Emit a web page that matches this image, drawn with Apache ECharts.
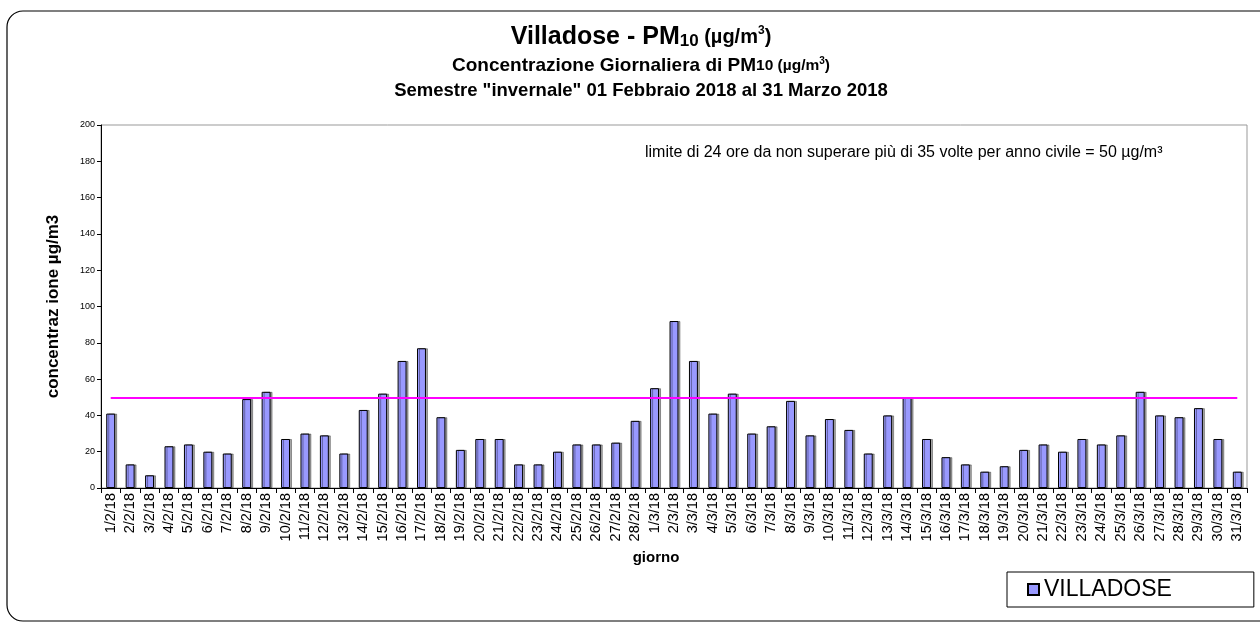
<!DOCTYPE html>
<html>
<head>
<meta charset="utf-8">
<script src="https://cdn.jsdelivr.net/npm/echarts@6/dist/echarts.min.js"></script>
<style>
    html, body { margin: 0; padding: 0; background: #fff; }
    #chart { width: 1260px; height: 627px; }
</style>
</head>
<body>
<div id="chart"></div>
<script>
// giorni (categorie asse x)
var giorni = [
    '1/2/18', '2/2/18', '3/2/18', '4/2/18', '5/2/18', '6/2/18', '7/2/18', '8/2/18', '9/2/18', '10/2/18',
    '11/2/18', '12/2/18', '13/2/18', '14/2/18', '15/2/18', '16/2/18', '17/2/18', '18/2/18', '19/2/18', '20/2/18',
    '21/2/18', '22/2/18', '23/2/18', '24/2/18', '25/2/18', '26/2/18', '27/2/18', '28/2/18',
    '1/3/18', '2/3/18', '3/3/18', '4/3/18', '5/3/18', '6/3/18', '7/3/18', '8/3/18', '9/3/18', '10/3/18',
    '11/3/18', '12/3/18', '13/3/18', '14/3/18', '15/3/18', '16/3/18', '17/3/18', '18/3/18', '19/3/18', '20/3/18',
    '21/3/18', '22/3/18', '23/3/18', '24/3/18', '25/3/18', '26/3/18', '27/3/18', '28/3/18', '29/3/18', '30/3/18',
    '31/3/18'
];

// PM10 giornaliero (µg/m3)
var villadose = [
    41, 13, 7, 23, 24, 20, 19, 49, 53, 27,
    30, 29, 19, 43, 52, 70, 77, 39, 21, 27,
    27, 13, 13, 20, 24, 24, 25, 37,
    55, 92, 70, 41, 52, 30, 34, 48, 29, 38,
    32, 19, 40, 50, 27, 17, 13, 9, 12, 21,
    24, 20, 27, 24, 29, 53, 40, 39, 44, 27,
    9
];

var limite = 50;
var yMin = 0, yMax = 200, yStep = 20;

window.onload = function () {
    var font = '"Liberation Sans", Arial, sans-serif';
    var chart = echarts.init(document.getElementById('chart'), null, { renderer: 'canvas' });

    chart.setOption({
        animation: false,
        backgroundColor: '#fff',
        textStyle: { fontFamily: font },
        grid: {
            left: 101, right: 13, top: 125, bottom: 139,
            show: true, borderColor: '#999', borderWidth: 1
        },
        legend: {
            left: 1007, top: 572,
            padding: [6, 82, 6, 20],
            borderColor: '#000', borderWidth: 1,
            itemWidth: 11, itemHeight: 11, itemGap: 6,
            icon: 'rect',
            textStyle: { fontSize: 23, color: '#000', fontFamily: font },
            data: ['VILLADOSE']
        },
        xAxis: {
            type: 'category',
            data: giorni,
            axisLine: { lineStyle: { color: '#000', width: 1 } },
            axisTick: { show: true, interval: 0, length: 5, lineStyle: { color: '#000' } },
            axisLabel: { interval: 0, rotate: 90, fontSize: 14.5, color: '#000', margin: 5 }
        },
        yAxis: {
            type: 'value',
            min: yMin, max: yMax, interval: yStep,
            name: 'concentraz ione µg/m3',
            nameLocation: 'middle',
            nameGap: 39,
            nameTextStyle: { fontSize: 17, fontWeight: 'bold', color: '#000' },
            axisLine: { show: true, lineStyle: { color: '#000', width: 1 } },
            axisTick: { show: true, length: 4, lineStyle: { color: '#000' } },
            axisLabel: { fontSize: 9, color: '#000', margin: 6 },
            splitLine: { show: false }
        },
        series: [{
            name: 'VILLADOSE',
            type: 'bar',
            data: villadose,
            barWidth: '46%',
            itemStyle: {
                color: '#9999FF',
                borderColor: '#000',
                borderWidth: 1,
                shadowColor: 'rgba(0,0,0,0.35)',
                shadowOffsetX: 2,
                shadowOffsetY: 0
            },
            markLine: {
                silent: true,
                symbol: 'none',
                label: { show: false },
                lineStyle: { color: '#FF00FF', width: 2, type: 'solid' },
                data: [[
                    { coord: [giorni[0], limite] },
                    { coord: [giorni[giorni.length - 1], limite] }
                ]]
            }
        }],
        graphic: [
            // cornice esterna
            {
                type: 'rect', z: -1, silent: true,
                shape: { x: 7, y: 11, width: 1270, height: 610, r: 16 },
                style: { fill: null, stroke: '#000', lineWidth: 1.2 }
            },
            {
                type: 'text', x: 641, y: 37, silent: true,
                style: {
                    text: '{a|Villadose - PM}{s|10}{b| (µg/m}{p|3}{b|)}',
                    textAlign: 'center', textVerticalAlign: 'middle',
                    rich: {
                        a: { fontSize: 25, fontWeight: 'bold', fontFamily: font, fill: '#000' },
                        s: { fontSize: 17, fontWeight: 'bold', fontFamily: font, fill: '#000', padding: [9, 0, 0, 0] },
                        b: { fontSize: 20, fontWeight: 'bold', fontFamily: font, fill: '#000' },
                        p: { fontSize: 12, fontWeight: 'bold', fontFamily: font, fill: '#000', padding: [0, 0, 13, 0] }
                    }
                }
            },
            {
                type: 'text', x: 641, y: 66, silent: true,
                style: {
                    text: '{a|Concentrazione Giornaliera di PM}{b|10 (µg/m}{p|3}{b|)}',
                    textAlign: 'center', textVerticalAlign: 'middle',
                    rich: {
                        a: { fontSize: 19, fontWeight: 'bold', fontFamily: font, fill: '#000' },
                        b: { fontSize: 15.5, fontWeight: 'bold', fontFamily: font, fill: '#000' },
                        p: { fontSize: 10, fontWeight: 'bold', fontFamily: font, fill: '#000', padding: [0, 0, 10, 0] }
                    }
                }
            },
            {
                type: 'text', x: 641, y: 91, silent: true,
                style: {
                    text: 'Semestre "invernale" 01 Febbraio 2018 al 31 Marzo 2018',
                    textAlign: 'center', textVerticalAlign: 'middle',
                    font: 'bold 18.5px ' + font, fill: '#000'
                }
            },
            {
                type: 'text', x: 645, y: 153, silent: true,
                style: {
                    text: 'limite di 24 ore da non superare più di 35 volte per anno civile = 50 µg/m³',
                    textVerticalAlign: 'middle',
                    font: '16px ' + font, fill: '#000'
                }
            },
            {
                type: 'text', x: 656, y: 558, silent: true,
                style: {
                    text: 'giorno',
                    textAlign: 'center', textVerticalAlign: 'middle',
                    font: 'bold 15px ' + font, fill: '#000'
                }
            }
        ]
    });
};
</script>
</body>
</html>
